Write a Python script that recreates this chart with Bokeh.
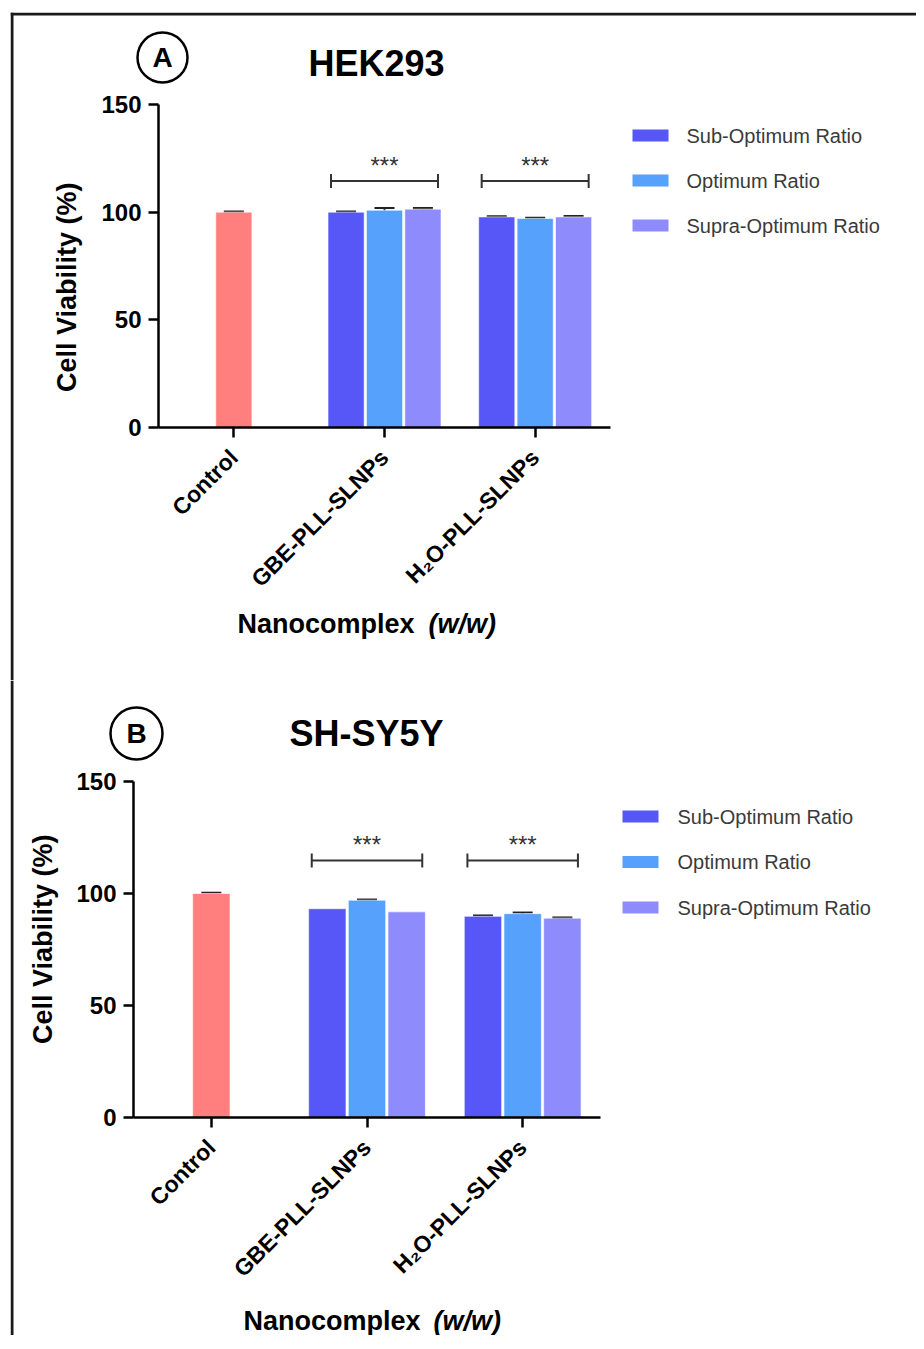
import math
from bokeh.plotting import figure
from bokeh.layouts import column
from bokeh.models import (ColumnDataSource, Range1d, FixedTicker, Whisker, TeeHead)
from bokeh.core.properties import value
from bokeh.embed import file_html
from bokeh.resources import INLINE

# ---------------- data ----------------
categories = ["Control", "GBE-PLL-SLNPs", "H\u2082O-PLL-SLNPs"]
treated = ["GBE-PLL-SLNPs", "H\u2082O-PLL-SLNPs"]
series = ["Sub-Optimum Ratio", "Optimum Ratio", "Supra-Optimum Ratio"]
y_ticks = [0, 50, 100, 150]

# HEK293
hek_control = [100.0]
hek_control_err = [0.3]
hek_sub = [100.0, 97.8]
hek_sub_err = [0.3, 0.3]
hek_opt = [100.9, 97.1]
hek_opt_err = [1.0, 0.3]
hek_supra = [101.4, 97.8]
hek_supra_err = [0.5, 0.4]

# SH-SY5Y  (None = no error bar shown)
sh_control = [100.0]
sh_control_err = [0.3]
sh_sub = [93.2, 89.8]
sh_sub_err = [None, 0.4]
sh_opt = [97.0, 91.0]
sh_opt_err = [0.3, 0.5]
sh_supra = [91.8, 89.0]
sh_supra_err = [None, 0.3]

significance = ["***", "***"]

# ---------------- style ----------------
FONT = "Liberation Sans"
CONTROL_COLOR = "#FF7F7F"
SERIES_COLORS = ["#5757F7", "#55A1FC", "#8E8BFD"]
OFFSETS = [-0.255, 0.0, 0.255]
BAR_W = 0.24
INK = "#222222"


def add_errors(p, xs, vals, errs):
    pts = [(x, v, e) for x, v, e in zip(xs, vals, errs) if e is not None]
    if not pts:
        return
    src = ColumnDataSource(dict(x=[a for a, _, _ in pts],
                                upper=[v + e for _, v, e in pts],
                                lower=[v - e for _, v, e in pts]))
    p.add_layout(Whisker(source=src, base="x", upper="upper", lower="lower",
                         line_color=INK, line_width=2,
                         upper_head=TeeHead(size=20, line_width=2, line_color=INK),
                         lower_head=TeeHead(size=20, line_width=2, line_color=INK)))


def make_panel(title, letter, control, control_err, vals, errs, g):
    # g holds the pixel geometry of the panel (page pixels) used to place annotations
    ux = g["fw"] / 3.0
    uy = g["fh"] / 150.0
    def dx(px):
        return (px - g["ax"]) / ux
    def dy(py):
        return (g["ay0"] - py) / uy

    x0, x1 = dx(g["left"]), dx(g["left"] + g["w"])
    y1, y0 = dy(g["top"]), dy(g["top"] + g["h"])
    p = figure(x_range=Range1d(x0, x1), y_range=Range1d(y0, y1),
               width=g["w"], height=g["h"], output_backend="svg", toolbar_location=None,
               min_border=0)
    p.outline_line_color = None
    p.xgrid.grid_line_color = None
    p.ygrid.grid_line_color = None

    # outer box lines (top / left)
    if g["top_line"]:
        p.segment(x0=[x0], x1=[x1], y0=[dy(13.5)], y1=[dy(13.5)],
                  line_color="#1a1a1a", line_width=3)
        p.segment(x0=[dx(11.5)], x1=[dx(11.5)], y0=[dy(12)], y1=[y0],
                  line_color="#1a1a1a", line_width=3)
    else:
        p.segment(x0=[dx(11.5)], x1=[dx(11.5)], y0=[y1], y1=[y0],
                  line_color="#1a1a1a", line_width=3)

    xpos = {c: i + 0.5 for i, c in enumerate(categories)}

    # control bar
    cx = [xpos["Control"]]
    p.vbar(x=cx, top=control, width=BAR_W, fill_color=CONTROL_COLOR,
           line_color="white", line_alpha=0.6, line_width=1)
    add_errors(p, cx, control, control_err)

    # grouped bars
    for s, col, off, v, e in zip(series, SERIES_COLORS, OFFSETS, vals, errs):
        xs = [xpos[c] + off for c in treated]
        p.vbar(x=xs, top=v, width=BAR_W,
               fill_color=col, line_color="white", line_alpha=0.6, line_width=1)
        add_errors(p, xs, v, e)

    # significance brackets
    by = dy(g["br_y"])
    hk = 7.0 / uy
    for cat, star in zip(treated, significance):
        c = xpos[cat]
        a, b = c - 0.355, c + 0.355
        p.segment(x0=[a, a, b], x1=[b, a, b], y0=[by, by - hk, by - hk], y1=[by, by + hk, by + hk],
                  line_color="#333333", line_width=2)
        p.text(x=[c], y=[by + 7.0], text=[star], text_align="center", text_baseline="middle",
               text_font=value(FONT), text_font_size="24px", text_color="#333333")

    # axes (placed at data zero, limited by bounds)
    xa, ya = p.xaxis[0], p.yaxis[0]
    for ax in (xa, ya):
        ax.axis_line_width = 2.5
        ax.axis_line_color = "black"
        ax.major_tick_line_width = 2.5
        ax.major_tick_line_color = "black"
        ax.major_tick_out = 10
        ax.major_tick_in = 0
        ax.minor_tick_line_color = None
        ax.major_label_text_font = FONT
        ax.major_label_text_font_style = "bold"
        ax.major_label_text_color = "black"
    ya.fixed_location = 0
    ya.bounds = (0, 150)
    ya.ticker = FixedTicker(ticks=y_ticks)
    ya.major_label_text_font_size = "24px"
    ya.major_label_standoff = 7

    xa.fixed_location = 0
    xa.bounds = (0, 3)
    xa.ticker = FixedTicker(ticks=[xpos[c] for c in categories])
    xa.major_label_overrides = {xpos[c]: c for c in categories}
    xa.major_label_orientation = math.pi / 4
    xa.major_label_text_font_size = "23px"
    xa.major_label_standoff = 16

    # y axis title
    p.text(x=[dx(g["ylab_x"])], y=[dy(g["ylab_y"])], text=["Cell Viability  (%)"],
           angle=math.pi / 2, text_font=value(FONT), text_font_style="bold",
           text_font_size="27px", text_baseline="middle", text_align="center",
           text_color="black")

    # x axis title (mixed styles)
    p.text(x=[dx(g["nano_x"])], y=[dy(g["nano_y"])], text=["Nanocomplex"],
           text_font=value(FONT), text_font_style="bold", text_font_size="27px",
           text_baseline="middle", text_align="left", text_color="black")
    p.text(x=[dx(g["ww_x"])], y=[dy(g["nano_y"])], text=["(w/w)"],
           text_font=value(FONT), text_font_style="bold italic", text_font_size="27px",
           text_baseline="middle", text_align="left", text_color="black")

    # title and circled letter
    p.text(x=[dx(g["title_x"])], y=[dy(g["title_y"])], text=[title],
           text_font=value(FONT), text_font_style="bold", text_font_size="36px",
           text_baseline="middle", text_align="center", text_color="black")
    p.scatter(x=[dx(g["circ_x"])], y=[dy(g["circ_y"])], marker="circle", size=g["circ_d"],
              fill_color=None, line_color="black", line_width=2.5)
    p.text(x=[dx(g["circ_x"])], y=[dy(g["circ_y"])], text=[letter],
           text_font=value(FONT), text_font_style="bold", text_font_size="28px",
           text_baseline="middle", text_align="center", text_color="black")

    # legend
    for i, (s, col) in enumerate(zip(series, SERIES_COLORS)):
        yy = dy(g["leg_y"] + i * g["leg_dy"])
        p.rect(x=[dx(g["sw_x"] + 18)], y=[yy], width=36, height=12,
               width_units="screen", height_units="screen",
               fill_color=col, line_color=None)
        p.text(x=[dx(g["lt_x"])], y=[yy], text=[s], text_font=value(FONT),
               text_font_size="20px", text_color="#3a3a3a",
               text_baseline="middle", text_align="left")
    return p


geoA = dict(left=10, top=12, w=906, h=668, top_line=True,
            fw=452, fh=323, ax=158, ay0=427,
            ylab_x=66, ylab_y=283, br_y=180.5,
            nano_x=237, ww_x=428, nano_y=623,
            title_x=376, title_y=63, circ_x=162, circ_y=57, circ_d=50,
            sw_x=632, lt_x=686, leg_y=135, leg_dy=45)
geoB = dict(left=10, top=680, w=906, h=655, top_line=False,
            fw=467, fh=336, ax=133, ay0=1117,
            ylab_x=42, ylab_y=935, br_y=860,
            nano_x=243, ww_x=433, nano_y=1320,
            title_x=366, title_y=733, circ_x=136, circ_y=733, circ_d=52,
            sw_x=622, lt_x=677, leg_y=816, leg_dy=45.5)

pA = make_panel("HEK293", "A", hek_control, hek_control_err,
                [hek_sub, hek_opt, hek_supra], [hek_sub_err, hek_opt_err, hek_supra_err], geoA)
pB = make_panel("SH-SY5Y", "B", sh_control, sh_control_err,
                [sh_sub, sh_opt, sh_supra], [sh_sub_err, sh_opt_err, sh_supra_err], geoB)

layout = column(pA, pB, spacing=0, margin=(12, 0, 0, 10))

open("out.html", "w").write(file_html(layout, INLINE))
